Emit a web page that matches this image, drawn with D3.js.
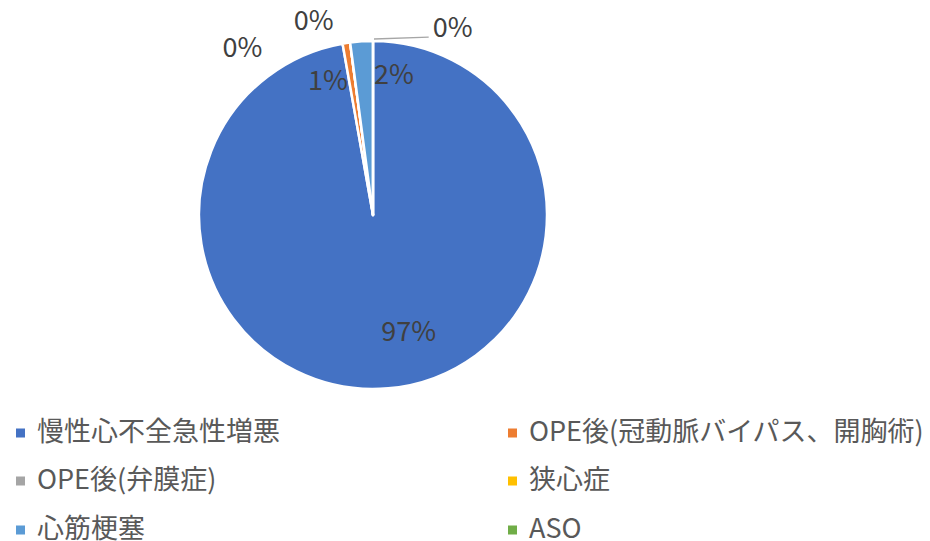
<!DOCTYPE html>
<html>
<head>
<meta charset="utf-8">
<script src="https://cdn.jsdelivr.net/npm/d3@7"></script>
<style>
  body { margin: 0; background: #fff; }
  text { font-family: "Noto Sans CJK JP", "Noto Sans", sans-serif; }
</style>
</head>
<body>
<script>
// chart data
const categories = ["慢性心不全急性増悪", "OPE後(冠動脈バイパス、開胸術)", "OPE後(弁膜症)", "狭心症", "心筋梗塞", "ASO"];
const counts = [139, 1, 0, 0, 3, 0];
const colors = ["#4472C4", "#ED7D31", "#A5A5A5", "#FFC000", "#5B9BD5", "#70AD47"];

const width = 930, height = 541;
const cx = 373, cy = 215, radius = 174;

// label placement: angle (deg, clockwise from top) and distance from centre
const labelPos = [
    {a: 163, r: 122},
    {a: -18.5, r: 142},
    {a: -38, r: 212},
    {a: -17, r: 203},
    {a: 8.5, r: 142},
    {a: 23, r: 204, leader: true}
];

const svg = d3.select("body").append("svg")
    .attr("width", width)
    .attr("height", height);

const total = d3.sum(counts);
const pie = d3.pie().sort(null).value(d => d);
const arcs = pie(counts);
const arc = d3.arc().innerRadius(0).outerRadius(radius);

const g = svg.append("g").attr("transform", `translate(${cx},${cy})`);

g.selectAll(".slice")
    .data(arcs)
    .enter()
    .append("path")
    .attr("class", "slice")
    .attr("d", arc)
    .attr("fill", (d, i) => colors[i])
    .attr("stroke", "#fff")
    .attr("stroke-width", 2.5)
    .attr("stroke-linejoin", "round");

function polar(aDeg, r) {
    const a = aDeg * Math.PI / 180;
    return [r * Math.sin(a), -r * Math.cos(a)];
}

// leader lines for labels pushed outside
arcs.forEach((d, i) => {
    if (!labelPos[i].leader) return;
    const edge = polar(d.startAngle * 180 / Math.PI, radius + 1);
    const p = polar(labelPos[i].a, labelPos[i].r);
    g.append("polyline")
        .attr("points", [[edge[0] + 1, edge[1] - 1], [p[0] - 24, p[1] + 10]].map(q => q.join(",")).join(" "))
        .attr("fill", "none")
        .attr("stroke", "#A6A6A6")
        .attr("stroke-width", 1.3);
});

g.selectAll(".lbl")
    .data(arcs)
    .enter()
    .append("text")
    .attr("class", "lbl")
    .attr("x", (d, i) => polar(labelPos[i].a, labelPos[i].r)[0])
    .attr("y", (d, i) => polar(labelPos[i].a, labelPos[i].r)[1] - 2)
    .attr("text-anchor", "middle")
    .attr("dominant-baseline", "central")
    .attr("font-size", 27)
    .attr("fill", "#404040")
    .text(d => Math.round(d.value / total * 100) + "%");

// legend, two columns
const legend = svg.append("g");
const colX = [16, 508];
const rowY = [433, 481, 530];

const item = legend.selectAll(".item")
    .data(categories)
    .enter()
    .append("g")
    .attr("class", "item")
    .attr("transform", (d, i) => `translate(${colX[i % 2]},${rowY[Math.floor(i / 2)]})`);

item.append("rect")
    .attr("x", 0)
    .attr("y", -4.5)
    .attr("width", 9)
    .attr("height", 9)
    .attr("fill", (d, i) => colors[i]);

item.append("text")
    .attr("x", 21)
    .attr("y", -4)
    .attr("dominant-baseline", "central")
    .attr("font-size", 27)
    .attr("fill", "#595959")
    .text(d => d);
</script>
</body>
</html>
